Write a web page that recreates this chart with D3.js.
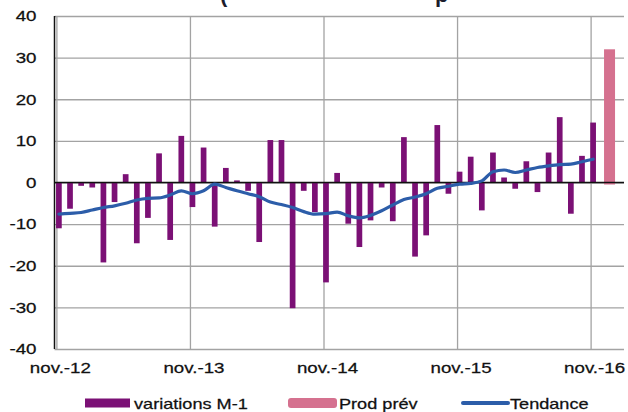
<!DOCTYPE html>
<html>
<head>
<meta charset="utf-8">
<script src="https://cdn.jsdelivr.net/npm/d3@7"></script>
<style>
  body { margin: 0; background: #fff; }
  svg { display: block; font-family: "Liberation Sans", Arial, sans-serif; }
</style>
</head>
<body>
<svg></svg>
<script>
var width = 628,
    height = 412,
    plot = { left: 54.5, right: 624, top: 16, bottom: 349 }

// monthly values, nov.-12 (index 0) to nov.-16 (index 48)
var tickIndex = [0, 12, 24, 36, 48],
    tickLabels = ["nov.-12", "nov.-13", "nov.-14", "nov.-15", "nov.-16"],
    yTicks = [40, 30, 20, 10, 0, -10, -20, -30, -40]

var variations = [-11.0, -6.3, -0.8, -1.2, -19.2, -4.7, 2.0, -14.6, -8.5, 7.0, -13.8, 11.2,
    -5.9, 8.4, -10.6, 3.5, 0.5, -2.0, -14.3, 10.2, 10.2, -30.2, -2.0, -7.1,
    -24.0, 2.3, -9.9, -15.5, -9.1, -1.2, -9.3, 10.9, -17.8, -12.7, 13.8, -2.7,
    2.6, 6.2, -6.7, 7.2, 1.2, -1.5, 5.1, -2.3, 7.2, 15.7, -7.5, 6.4,
    14.4]

var tendance = [-7.6, -7.4, -7.2, -6.6, -6.0, -5.6, -5.0, -4.2, -3.8, -3.7, -3.0, -2.0,
    -2.7, -2.0, -0.4, -1.2, -2.0, -2.7, -3.4, -4.7, -5.3, -6.0, -7.0, -7.6,
    -7.5, -7.1, -8.0, -8.5, -7.9, -6.8, -5.4, -4.1, -3.5, -2.7, -1.4, -0.9,
    -0.4, -0.2, 0.4, 2.6, 3.0, 2.4, 3.0, 3.6, 4.0, 4.3, 4.4, 5.0,
    5.6]

var prodPrevIndex = [49],
    prodPrev = [32]

var legendNames = ["variations M-1", "Prod prév", "Tendance"],
    colors = ["#7b1075", "#d5718f", "#2c5da9"]

var stretch = "scale(1.25,1)"

var svg = d3.select("svg").attr("width", width).attr("height", height)

var x = d3.scaleLinear().domain([-0.17, 51]).range([plot.left, plot.right])
var y = d3.scaleLinear().domain([-40, 40]).range([plot.bottom, plot.top])

// title, cut off by the top edge in the original
svg.append("text").attr("x", 220).attr("y", 1.5).attr("font-size", 22).attr("font-weight", "bold")
    .attr("fill", "#1c1c2c").text("(")
svg.append("text").attr("x", 435).attr("y", 1.5).attr("font-size", 22).attr("font-weight", "bold")
    .attr("fill", "#1c1c2c").text("p")

function styleText(sel) {
    sel.attr("font-size", 15).attr("fill", "#111")
        .attr("stroke", "#111").attr("stroke-width", 0.25)
        .attr("font-family", "Liberation Sans, Arial, sans-serif")
}

// y grid + labels
var yAxis = d3.axisLeft(y).tickValues(yTicks)
    .tickFormat(function(d) { return String(d) })
    .tickSize(-(plot.right - plot.left)).tickPadding(0)
var gy = svg.append("g").attr("transform", "translate(" + plot.left + ",0)").call(yAxis)
gy.select(".domain").remove()
gy.selectAll("line").attr("stroke", "#a3a3a3").attr("stroke-width", 1.3)
gy.selectAll("text").attr("x", null)
    .attr("transform", "translate(-18,0) " + stretch)
    .call(styleText)

// x grid + labels
var xAxis = d3.axisBottom(x).tickValues(tickIndex)
    .tickFormat(function(d, i) { return tickLabels[i] })
    .tickSize(-(plot.bottom - plot.top)).tickPadding(13)
var gx = svg.append("g").attr("transform", "translate(0," + plot.bottom + ")").call(xAxis)
gx.select(".domain").remove()
gx.selectAll("line").attr("stroke", "#a3a3a3").attr("stroke-width", 1.3)
gx.selectAll("text")
    .attr("transform", "translate(3.5,0) " + stretch)
    .call(styleText)

// bars
var barW = 5.7
svg.append("g").selectAll("rect")
    .data(variations)
    .enter()
    .append("rect")
    .attr("x", function(d, i) { return x(i) + 2.5 - barW / 2 })
    .attr("y", function(d) { return y(Math.max(d, 0)) })
    .attr("width", barW)
    .attr("height", function(d) { return Math.abs(y(d) - y(0)) })
    .attr("fill", colors[0])

svg.append("g").selectAll("rect")
    .data(prodPrev)
    .enter()
    .append("rect")
    .attr("x", function(d, i) { return x(prodPrevIndex[i]) + 2.3 })
    .attr("y", function(d) { return y(d) })
    .attr("width", 11)
    .attr("height", function(d) { return y(0) - y(d) + 2 })
    .attr("fill", colors[1])

// zero line and left axis
svg.append("line").attr("x1", plot.left).attr("x2", plot.right)
    .attr("y1", y(0)).attr("y2", y(0)).attr("stroke", "#111").attr("stroke-width", 1.4)
svg.append("line").attr("x1", plot.left).attr("x2", plot.left)
    .attr("y1", plot.top).attr("y2", plot.bottom).attr("stroke", "#111").attr("stroke-width", 1.5)

// trend line
var line = d3.line()
    .x(function(d, i) { return x(i) + 2.5 })
    .y(function(d) { return y(d) })
    .curve(d3.curveMonotoneX)
svg.append("path").datum(tendance)
    .attr("d", line)
    .attr("fill", "none")
    .attr("stroke", colors[2])
    .attr("stroke-width", 3.2)
    .attr("stroke-linecap", "round")
    .attr("stroke-linejoin", "round")

// legend
var legendX = [85, 288, 462],
    legendY = 403
var lg = svg.append("g").selectAll("g")
    .data(legendNames)
    .enter()
    .append("g")
    .attr("transform", function(d, i) { return "translate(" + legendX[i] + "," + legendY + ")" })

lg.each(function(d, i) {
    var g = d3.select(this)
    if (i == 0) {
        g.append("rect").attr("x", 0).attr("y", -4.5).attr("width", 45).attr("height", 9).attr("fill", colors[0])
    } else if (i == 1) {
        g.append("rect").attr("x", 0).attr("y", -5).attr("width", 49).attr("height", 10).attr("rx", 3).attr("fill", colors[1])
    } else {
        g.append("line").attr("x1", 1).attr("x2", 46).attr("y1", 0).attr("y2", 0)
            .attr("stroke", colors[2]).attr("stroke-width", 4).attr("stroke-linecap", "round")
    }
    g.append("text")
        .attr("transform", "translate(" + (i == 0 ? 49 : (i == 1 ? 51 : 48)) + ",5.5) " + stretch)
        .call(styleText)
        .attr("font-size", 14.5)
        .text(d)
})
</script>
</body>
</html>
